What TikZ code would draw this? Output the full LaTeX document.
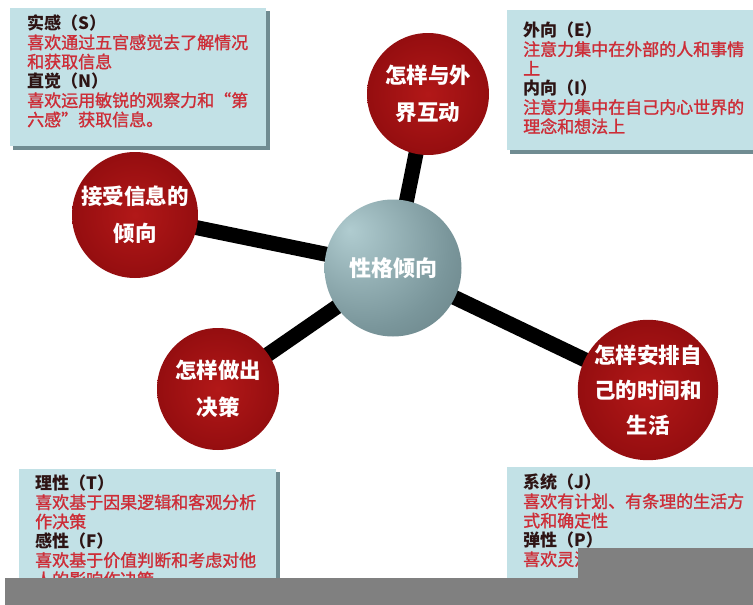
\documentclass[tikz,border=0pt]{standalone}
\usepackage{fontspec}
\newfontfamily\cjk{Noto Sans CJK SC}
\newfontfamily\cjkthick{Noto Sans CJK SC}[FakeBold=1.3]
\usetikzlibrary{backgrounds}

\definecolor{boxfill}{RGB}{194,225,230}
\definecolor{boxedge}{RGB}{112,140,146}
\definecolor{textred}{RGB}{205,45,55}
\definecolor{titledark}{RGB}{45,20,20}
\definecolor{redlight}{RGB}{178,24,24}
\definecolor{redmid}{RGB}{150,14,16}
\definecolor{reddark}{RGB}{92,4,8}
\definecolor{hublight}{RGB}{176,204,208}
\definecolor{hubmid}{RGB}{122,150,155}
\definecolor{hubdark}{RGB}{66,86,90}
\definecolor{barcolor}{RGB}{128,128,128}

\pgfdeclareradialshading{redball}{\pgfpoint{0bp}{0bp}}{color(0bp)=(redlight); color(24bp)=(redmid); color(50bp)=(reddark)}
\pgfdeclareradialshading{hubball}{\pgfpoint{-16bp}{14bp}}{color(0bp)=(hublight); color(30bp)=(hubmid); color(74bp)=(hubdark)}

\tikzset{
  sphere/.style={circle, shading=redball, text=white, inner sep=0pt, align=center,
    font=\cjk\bfseries\fontsize{21.5}{37}\selectfont},
  hubsphere/.style={circle, shading=hubball, text=white, inner sep=0pt,
    font=\cjk\bfseries\fontsize{22}{26}\selectfont},
  stick/.style={line width=15pt, black},
  infotext/.style={anchor=north west, align=left, inner sep=0pt, text=textred,
    font=\cjkthick\fontsize{17}{19.3}\selectfont},
}
\newcommand{\heading}[1]{{\cjk\bfseries\color{titledark}#1}}

\begin{document}
\begin{tikzpicture}[x=1pt,y=-1pt]
\useasboundingbox (0,0) rectangle (753,605);

% info boxes
\fill[boxedge] (13,11) rectangle (270,150);
\fill[boxfill] (10,8) rectangle (266,146);
\fill[boxedge] (510,13) rectangle (753,154);
\fill[boxfill] (507,10) rectangle (753,150);
\fill[boxedge] (22,472) rectangle (280,600);
\fill[boxfill] (19,469) rectangle (276,600);
\fill[boxedge] (510,470) rectangle (753,600);
\fill[boxfill] (507,467) rectangle (753,600);

\node[infotext] (sensing) at (27,14.5) {\heading{实感（S）}\\喜欢通过五官感觉去了解情况\\和获取信息\\\heading{直觉（N）}\\喜欢运用敏锐的观察力和“第\\六感”获取信息。};
\node[infotext] (extra) at (523,21.5) {\heading{外向（E）}\\注意力集中在外部的人和事情\\上\\\heading{内向（I）}\\注意力集中在自己内心世界的\\理念和想法上};
\node[infotext] (thinking) at (35,474.5) {\heading{理性（T）}\\喜欢基于因果逻辑和客观分析\\作决策\\\heading{感性（F）}\\喜欢基于价值判断和考虑对他\\人的影响作决策};
\node[infotext] (judging) at (523,473.5) {\heading{系统（J）}\\喜欢有计划、有条理的生活方\\式和确定性\\\heading{弹性（P）}\\喜欢灵活};

% spheres
\node[hubsphere, minimum size=137pt] (hub) at (393,268) {性格倾向};
\node[sphere, minimum size=122pt] (interact) at (428,94) {怎样与外\\界互动};
\node[sphere, minimum size=126pt] (perceive) at (135,215) {接受信息的\\倾向};
\node[sphere, minimum size=122pt] (judge) at (218,389) {怎样做出\\决策};
\node[sphere, minimum size=128pt, font=\cjk\bfseries\fontsize{21.5}{35}\selectfont] (lifestyle) at (648,390) {怎样安排自\\己的时间和\\生活};

\begin{scope}[on background layer]
\draw[stick] (hub.center) -- (interact.center);
\draw[stick] (hub.center) -- (perceive.center);
\draw[stick] (hub.center) -- (judge.center);
\draw[stick] (hub.center) -- (lifestyle.center);
\end{scope}

% grey bars over the bottom
\fill[barcolor] (5,578) rectangle (753,605);
\fill[barcolor] (578,548) rectangle (753,578);
\end{tikzpicture}
\end{document}
